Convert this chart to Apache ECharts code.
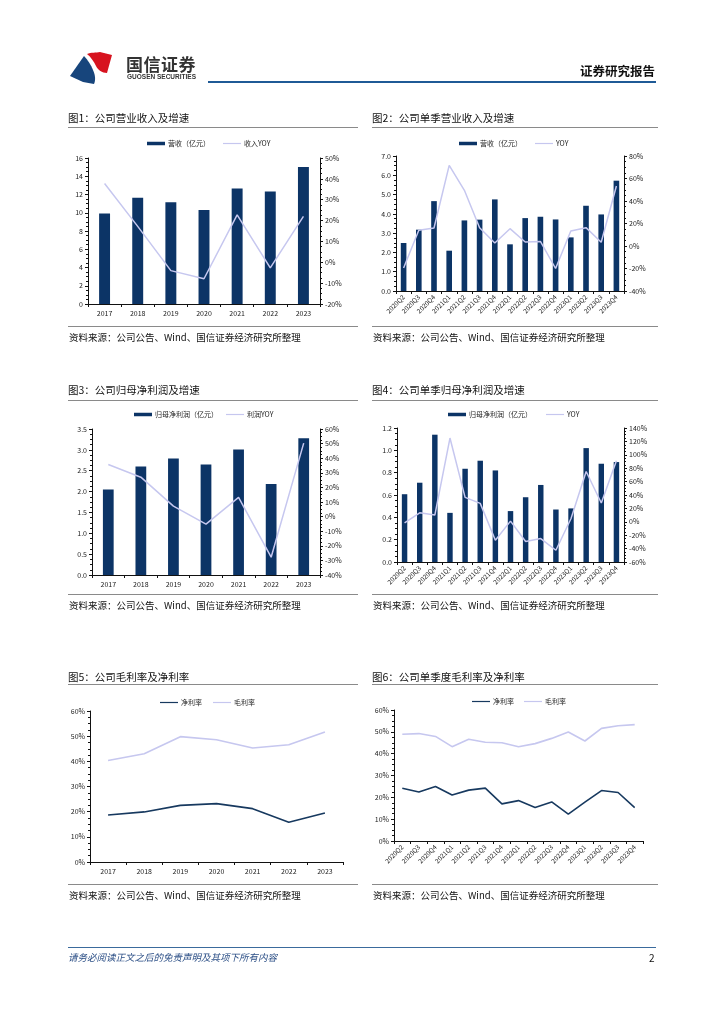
<!DOCTYPE html>
<html><head><meta charset="utf-8">
<script src="https://cdn.jsdelivr.net/npm/echarts@6/dist/echarts.min.js"></script>
<style>
html,body{margin:0;padding:0;background:#fff;}
#page{position:relative;width:724px;height:1024px;overflow:hidden;font-family:"Noto Sans CJK SC","Noto Sans",sans-serif;color:#111;}
#chart{position:absolute;left:0;top:0;width:724px;height:1024px;}
.t{position:absolute;white-space:nowrap;}
.ln{position:absolute;height:0;}
</style></head>
<body><div id="page">
<div id="chart"></div>
<svg class="t" style="left:69px;top:51px" width="46" height="34" viewBox="0 0 46 34">
  <path d="M18 3 C22 1 27 2 31 1 L43 4 L38 22 C33 22 29 19 27 15 C25 11 22 6 18 3 Z" fill="#d7131f"/>
  <path d="M15 5 C19 9 22 14 24 19 C26 24 27 28 25 33 L14 31 L1 25 Z" fill="#17457c"/>
</svg>
<div class="t" style="left:126px;top:51px;font-size:17px;font-weight:bold;color:#333;letter-spacing:0.5px">国信证券</div>
<div class="t" style="left:127px;top:73px;font-size:6.5px;color:#333;font-family:'Liberation Sans',sans-serif;font-weight:bold">GUOSEN SECURITIES</div>
<div class="t" style="left:580px;top:61px;font-size:12.5px;font-weight:bold;color:#111">证券研究报告</div>
<div class="ln" style="left:208px;top:81px;width:448px;border-top:2px solid #1f5a96"></div>

<div class="t" style="left:68px;top:110px;font-size:10.5px">图1：公司营业收入及增速</div>
<div class="ln" style="left:68px;top:127px;width:290px;border-top:1.5px solid #8a8a8a"></div>
<div class="t" style="left:372px;top:110px;font-size:10.5px">图2：公司单季营业收入及增速</div>
<div class="ln" style="left:372px;top:127px;width:286px;border-top:1.5px solid #8a8a8a"></div>
<div class="ln" style="left:68px;top:326px;width:290px;border-top:1.5px solid #8a8a8a"></div>
<div class="ln" style="left:372px;top:326px;width:286px;border-top:1.5px solid #8a8a8a"></div>
<div class="t" style="left:69px;top:330px;font-size:9.5px">资料来源：公司公告、Wind、国信证券经济研究所整理</div>
<div class="t" style="left:373px;top:330px;font-size:9.5px">资料来源：公司公告、Wind、国信证券经济研究所整理</div>

<div class="t" style="left:68px;top:382px;font-size:10.5px">图3：公司归母净利润及增速</div>
<div class="ln" style="left:68px;top:400px;width:290px;border-top:1.5px solid #8a8a8a"></div>
<div class="t" style="left:372px;top:382px;font-size:10.5px">图4：公司单季归母净利润及增速</div>
<div class="ln" style="left:372px;top:400px;width:286px;border-top:1.5px solid #8a8a8a"></div>
<div class="ln" style="left:68px;top:594px;width:290px;border-top:1.5px solid #8a8a8a"></div>
<div class="ln" style="left:372px;top:594px;width:286px;border-top:1.5px solid #8a8a8a"></div>
<div class="t" style="left:69px;top:598px;font-size:9.5px">资料来源：公司公告、Wind、国信证券经济研究所整理</div>
<div class="t" style="left:373px;top:598px;font-size:9.5px">资料来源：公司公告、Wind、国信证券经济研究所整理</div>

<div class="t" style="left:68px;top:669px;font-size:10.5px">图5：公司毛利率及净利率</div>
<div class="ln" style="left:68px;top:684px;width:290px;border-top:1.5px solid #8a8a8a"></div>
<div class="t" style="left:372px;top:669px;font-size:10.5px">图6：公司单季度毛利率及净利率</div>
<div class="ln" style="left:372px;top:684px;width:286px;border-top:1.5px solid #8a8a8a"></div>
<div class="ln" style="left:68px;top:884px;width:290px;border-top:1.5px solid #8a8a8a"></div>
<div class="ln" style="left:372px;top:884px;width:286px;border-top:1.5px solid #8a8a8a"></div>
<div class="t" style="left:69px;top:888px;font-size:9.5px">资料来源：公司公告、Wind、国信证券经济研究所整理</div>
<div class="t" style="left:373px;top:888px;font-size:9.5px">资料来源：公司公告、Wind、国信证券经济研究所整理</div>

<div class="ln" style="left:68px;top:947px;width:588px;border-top:1px solid #3a6a9c"></div>
<div class="t" style="left:68px;top:950px;font-size:9.5px;font-style:italic;color:#2c4f86">请务必阅读正文之后的免责声明及其项下所有内容</div>
<div class="t" style="left:649px;top:950px;font-size:10px;color:#111">2</div>
</div>
<script>
// ---- data ----
const years = ['2017','2018','2019','2020','2021','2022','2023'];
const quarters = ['2020Q2','2020Q3','2020Q4','2021Q1','2021Q2','2021Q3','2021Q4','2022Q1','2022Q2','2022Q3','2022Q4','2023Q1','2023Q2','2023Q3','2023Q4'];

const revenue = [9.93, 11.64, 11.16, 10.29, 12.65, 12.33, 15.02];
const revenueYoY = [37.8, 17.2, -4.0, -7.9, 22.7, -2.7, 22.0];

const qRevenue = [2.49, 3.18, 4.66, 2.09, 3.66, 3.70, 4.75, 2.42, 3.78, 3.85, 3.71, 2.78, 4.42, 3.97, 5.72];
const qRevenueYoY = [-19.6, 14.0, 16.0, 71.7, 49.5, 16.3, 2.7, 15.4, 3.6, 4.1, -20.0, 13.3, 16.3, 3.3, 53.3];

const netProfit = [2.05, 2.60, 2.79, 2.65, 3.01, 2.18, 3.28];
const netProfitYoY = [35.7, 27.0, 7.2, -5.1, 13.2, -27.8, 50.3];

const qNetProfit = [0.607, 0.71, 1.14, 0.44, 0.835, 0.907, 0.82, 0.456, 0.58, 0.69, 0.47, 0.48, 1.02, 0.88, 0.895];
const qNetProfitYoY = [-1.5, 13.5, 10.0, 125.0, 36.5, 27.5, -27.5, 1.0, -29.5, -25.0, -42.5, 5.0, 75.0, 28.0, 91.0];

const netMargin = [18.7, 19.9, 22.5, 23.2, 21.2, 15.8, 19.5];
const grossMargin = [40.3, 43.0, 49.8, 48.6, 45.3, 46.6, 51.7];

const qNetMargin = [24.2, 22.4, 25.0, 21.1, 23.3, 24.2, 17.0, 18.5, 15.3, 17.9, 12.3, 17.8, 23.1, 22.2, 15.3];
const qGrossMargin = [48.9, 49.2, 47.9, 43.2, 46.6, 45.2, 45.0, 43.2, 44.6, 47.0, 49.9, 45.8, 51.6, 52.8, 53.3];

// ---- styles ----
const BAR = '#0c3466';
const LIGHT = '#c6c7ef';
const DARK = '#17395f';
const FONT = '"Noto Sans CJK SC","Noto Sans",sans-serif';
const AX = '#111';
const lab = {fontSize: 7, color: '#222', fontFamily: FONT};

const grids = [
  {left: 88, width: 232, top: 158, height: 146},
  {left: 396, width: 228, top: 156, height: 135},
  {left: 92, width: 228, top: 429, height: 146},
  {left: 397, width: 227, top: 428, height: 134},
  {left: 90, width: 253, top: 711, height: 151},
  {left: 394, width: 249, top: 710, height: 131}
];

function xAxis(gi, cats, rot) {
  return {
    type: 'category', gridIndex: gi, data: cats, boundaryGap: true,
    axisLine: {lineStyle: {color: AX, width: 1}},
    axisTick: {show: true, length: 3, lineStyle: {color: AX}},
    axisLabel: Object.assign({}, lab, rot ? {rotate: 45, fontSize: 6.5, margin: 5, interval: 0} : {margin: 6, interval: 0})
  };
}
function yAxis(gi, min, max, interval, fmt, pos) {
  return {
    type: 'value', gridIndex: gi, min: min, max: max, interval: interval, position: pos || 'left',
    splitLine: {show: false},
    axisLine: {show: true, lineStyle: {color: AX, width: 1}},
    axisTick: {show: true, length: 3, lineStyle: {color: AX}},
    minorTick: {show: true, splitNumber: 4, length: 2, lineStyle: {color: AX}},
    axisLabel: Object.assign({}, lab, {formatter: fmt, margin: 5})
  };
}
const pct = v => v + '%';
const f1 = v => v.toFixed(1);

function leg(name, left, yc, isBar, color) {
  const h = isBar ? 3.5 : 1.2;
  return {
    data: [{name: name, icon: 'rect', itemStyle: {color: color}}],
    left: left, top: yc - 5, itemWidth: 18, itemHeight: h, padding: 0,
    textStyle: {fontSize: 7, color: '#222', fontFamily: FONT, padding: [0, 0, 0, -2]},
    selectedMode: false
  };
}

const option = {
  animation: false,
  grid: grids,
  legend: [
    leg('营收（亿元）', 147, 145, true, BAR),
    leg('收入YOY', 223, 145, false, LIGHT),
    leg('营收（亿元） ', 459, 145, true, BAR),
    leg('YOY', 535, 145, false, LIGHT),
    leg('归母净利润（亿元）', 134, 416, true, BAR),
    leg('利润YOY', 226, 416, false, LIGHT),
    leg('归母净利润（亿元） ', 448, 416, true, BAR),
    leg('YOY ', 546, 416, false, LIGHT),
    leg('净利率', 160, 704, false, DARK),
    leg('毛利率', 213, 704, false, LIGHT),
    leg('净利率 ', 472, 703, false, DARK),
    leg('毛利率 ', 524, 703, false, LIGHT)
  ],
  xAxis: [
    xAxis(0, years, false), xAxis(1, quarters, true), xAxis(2, years, false),
    xAxis(3, quarters, true), xAxis(4, years, false), xAxis(5, quarters, true)
  ],
  yAxis: [
    yAxis(0, 0, 16, 2, v => v),
    yAxis(0, -20, 50, 10, pct, 'right'),
    yAxis(1, 0, 7, 1, f1),
    yAxis(1, -40, 80, 20, pct, 'right'),
    yAxis(2, 0, 3.5, 0.5, f1),
    yAxis(2, -40, 60, 10, pct, 'right'),
    yAxis(3, 0, 1.2, 0.2, f1),
    yAxis(3, -60, 140, 20, pct, 'right'),
    yAxis(4, 0, 60, 10, pct),
    yAxis(5, 0, 60, 10, pct)
  ],
  series: [
    {name: '营收（亿元）', type: 'bar', xAxisIndex: 0, yAxisIndex: 0, data: revenue, barWidth: '33%', itemStyle: {color: BAR}},
    {name: '收入YOY', type: 'line', xAxisIndex: 0, yAxisIndex: 1, data: revenueYoY, symbol: 'none', lineStyle: {color: LIGHT, width: 1.5}, itemStyle: {color: LIGHT}, z: 5},
    {name: '营收（亿元） ', type: 'bar', xAxisIndex: 1, yAxisIndex: 2, data: qRevenue, barWidth: '37%', itemStyle: {color: BAR}},
    {name: 'YOY', type: 'line', xAxisIndex: 1, yAxisIndex: 3, data: qRevenueYoY, symbol: 'none', lineStyle: {color: LIGHT, width: 1.5}, itemStyle: {color: LIGHT}, z: 5},
    {name: '归母净利润（亿元）', type: 'bar', xAxisIndex: 2, yAxisIndex: 4, data: netProfit, barWidth: '33%', itemStyle: {color: BAR}},
    {name: '利润YOY', type: 'line', xAxisIndex: 2, yAxisIndex: 5, data: netProfitYoY, symbol: 'none', lineStyle: {color: LIGHT, width: 1.5}, itemStyle: {color: LIGHT}, z: 5},
    {name: '归母净利润（亿元） ', type: 'bar', xAxisIndex: 3, yAxisIndex: 6, data: qNetProfit, barWidth: '36%', itemStyle: {color: BAR}},
    {name: 'YOY ', type: 'line', xAxisIndex: 3, yAxisIndex: 7, data: qNetProfitYoY, symbol: 'none', lineStyle: {color: LIGHT, width: 1.5}, itemStyle: {color: LIGHT}, z: 5},
    {name: '净利率', type: 'line', xAxisIndex: 4, yAxisIndex: 8, data: netMargin, symbol: 'none', lineStyle: {color: DARK, width: 1.6}, itemStyle: {color: DARK}},
    {name: '毛利率', type: 'line', xAxisIndex: 4, yAxisIndex: 8, data: grossMargin, symbol: 'none', lineStyle: {color: LIGHT, width: 1.6}, itemStyle: {color: LIGHT}},
    {name: '净利率 ', type: 'line', xAxisIndex: 5, yAxisIndex: 9, data: qNetMargin, symbol: 'none', lineStyle: {color: DARK, width: 1.6}, itemStyle: {color: DARK}},
    {name: '毛利率 ', type: 'line', xAxisIndex: 5, yAxisIndex: 9, data: qGrossMargin, symbol: 'none', lineStyle: {color: LIGHT, width: 1.6}, itemStyle: {color: LIGHT}}
  ]
};
const chart = echarts.init(document.getElementById('chart'), null, {renderer: 'canvas'});
chart.setOption(option);
</script>
</body></html>
